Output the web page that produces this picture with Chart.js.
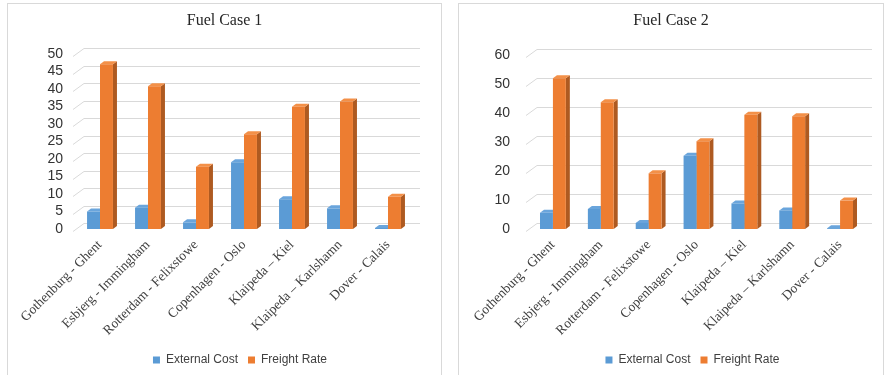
<!DOCTYPE html>
<html>
<head>
<meta charset="utf-8">
<script src="https://cdn.jsdelivr.net/npm/chart.js@4/dist/chart.umd.min.js"></script>
<style>
  html, body { margin: 0; padding: 0; background: #ffffff; }
  body { width: 886px; height: 375px; position: relative; overflow: hidden; }
  .panel { position: absolute; top: 3px; height: 380px; box-sizing: border-box;
           border: 1px solid #d9d9d9; border-bottom: none; background: #fff; }
  .panel canvas { position: absolute; left: 0; top: 0; }
</style>
</head>
<body>
<div class="panel" style="left:7px; width:435px;"><canvas id="case1" width="433" height="371"></canvas></div>
<div class="panel" style="left:458px; width:426px;"><canvas id="case2" width="424" height="371"></canvas></div>
<script>
// Routes (categories)
const routes = ['Gothenburg - Ghent', 'Esbjerg - Immingham', 'Rotterdam - Felixstowe',
  'Copenhagen - Oslo', 'Klaipeda \u2013 Kiel', 'Klaipeda \u2013 Karlshamn', 'Dover - Calais'];
const seriesNames = ['External Cost', 'Freight Rate'];

// Fuel Case 1
const case1External = [5.0, 6.1, 1.9, 19.1, 8.5, 5.9, 0.3];
const case1Freight  = [47.1, 40.8, 17.8, 27.1, 34.9, 36.4, 9.2];
const case1Ticks = { max: 50, step: 5 };

// Fuel Case 2
const case2External = [5.6, 6.9, 2.1, 25.3, 8.8, 6.4, 0.3];
const case2Freight  = [52.0, 43.7, 19.2, 30.3, 39.4, 38.9, 9.8];
const case2Ticks = { max: 60, step: 10 };

const BLUE = '#5b9bd5', BLUE_TOP = '#6aa5dc', BLUE_SIDE = '#41719c';
const ORANGE = '#ed7d31', ORANGE_TOP = '#f39048', ORANGE_SIDE = '#ae5a21';
const GRID = '#d9d9d9';

// Pseudo-3D: back-wall gridlines and the top / side faces of each column
const depthPlugin = {
  id: 'depth',
  beforeDatasetsDraw(chart) {
    const { ctx, chartArea, scales } = chart;
    const y = scales.y;
    const wx = 8, wy = 6;   // wall offset
    const dx = 4, dy = 3;   // column depth
    ctx.save();
    ctx.strokeStyle = GRID;
    ctx.lineWidth = 1;
    y.ticks.forEach(t => {
      const py = Math.round(y.getPixelForValue(t.value)) + 0.5;
      ctx.beginPath();
      ctx.moveTo(chartArea.left - 3, py + 2);
      ctx.lineTo(chartArea.left + wx, py - wy);
      ctx.lineTo(chartArea.right + wx, py - wy);
      ctx.stroke();
    });
    chart.data.datasets.forEach((ds, i) => {
      const meta = chart.getDatasetMeta(i);
      meta.data.forEach(bar => {
        const p = bar.getProps(['x', 'y', 'base', 'width'], true);
        const l = p.x - p.width / 2, r = p.x + p.width / 2;
        ctx.fillStyle = ds.sideColor;
        ctx.beginPath();
        ctx.moveTo(r, p.y); ctx.lineTo(r + dx, p.y - dy);
        ctx.lineTo(r + dx, p.base - dy); ctx.lineTo(r, p.base);
        ctx.closePath(); ctx.fill();
        ctx.fillStyle = ds.topColor;
        ctx.beginPath();
        ctx.moveTo(l, p.y); ctx.lineTo(l + dx, p.y - dy);
        ctx.lineTo(r + dx, p.y - dy); ctx.lineTo(r, p.y);
        ctx.closePath(); ctx.fill();
      });
    });
    ctx.restore();
  },
  afterLayout(chart, args, opts) {
    // legend sits centred under the plot, just above the bottom edge
    const lg = chart.legend;
    const ca = chart.chartArea;
    const target = (ca.left + ca.right) / 2 - 4;
    const shiftX = target - (lg.left + lg.right) / 2;
    lg.left += shiftX; lg.right += shiftX;
    const shiftY = opts.legendTop - lg.top;
    lg.top += shiftY; lg.bottom += shiftY;
  }
};

function makeChart(id, title, external, freight, ticks, geo) {
  return new Chart(document.getElementById(id), {
    type: 'bar',
    data: {
      labels: routes,
      datasets: [
        { label: seriesNames[0], data: external, backgroundColor: BLUE,
          topColor: BLUE_TOP, sideColor: BLUE_SIDE,
          categoryPercentage: 0.54, barPercentage: 1.0 },
        { label: seriesNames[1], data: freight, backgroundColor: ORANGE,
          topColor: ORANGE_TOP, sideColor: ORANGE_SIDE,
          categoryPercentage: 0.54, barPercentage: 1.0 }
      ]
    },
    options: {
      responsive: false,
      animation: false,
      events: [],
      layout: { padding: 0 },
      plugins: {
        depth: { legendTop: geo.legendTop },
        tooltip: { enabled: false },
        title: {
          display: true, text: title, color: '#262626',
          font: { family: '"Liberation Serif", "Times New Roman", serif', size: 16, weight: 'normal' },
          padding: { top: 7, bottom: geo.titleBottom }
        },
        legend: {
          position: 'bottom',
          labels: {
            boxWidth: 7, boxHeight: 7, padding: 10, color: '#404040',
            font: { family: '"Liberation Sans", Arial, sans-serif', size: 12 }
          }
        }
      },
      scales: {
        x: {
          grid: { display: false },
          border: { display: false },
          ticks: {
            autoSkip: false, maxRotation: 45, minRotation: 45, padding: 0,
            color: '#404040',
            font: { family: '"Liberation Serif", "Times New Roman", serif', size: 13.5 }
          },
          afterFit(s) { s.height = geo.xHeight; s.paddingLeft = 0; s.paddingRight = geo.rightPad; }
        },
        y: {
          min: 0, max: ticks.max,
          grid: { display: false },
          border: { display: false },
          ticks: {
            stepSize: ticks.step, autoSkip: false, padding: geo.yPad, color: '#333333',
            font: { family: '"Liberation Sans", Arial, sans-serif', size: 14 }
          },
          afterFit(s) { s.width = geo.left; s.paddingTop = 0; s.paddingBottom = 0; }
        }
      }
    },
    plugins: [depthPlugin]
  });
}

makeChart('case1', 'Fuel Case 1', case1External, case1Freight, case1Ticks,
  { titleBottom: 23.8, xHeight: 114, left: 68, rightPad: 29, yPad: 5, legendTop: 340 });
makeChart('case2', 'Fuel Case 2', case2External, case2Freight, case2Ticks,
  { titleBottom: 24.8, xHeight: 114, left: 70, rightPad: 19, yPad: 11, legendTop: 340 });
</script>
</body>
</html>
